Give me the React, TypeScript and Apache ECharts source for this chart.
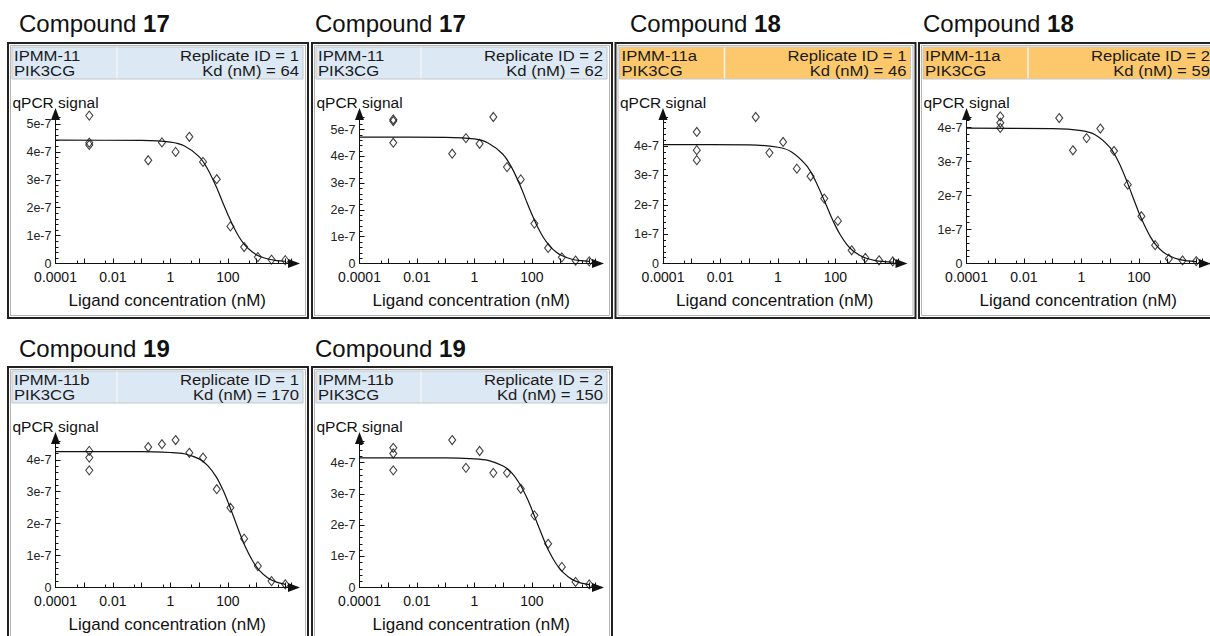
import React, { useEffect, useRef } from "react";
import * as echarts from "echarts";

// ---------- data (signal values in units of 1e-7) ----------
const COMPOUNDS = ["17", "17", "18", "18", "19", "19"];
const TARGETS = ["IPMM-11", "IPMM-11", "IPMM-11a", "IPMM-11a", "IPMM-11b", "IPMM-11b"];
const GENE = "PIK3CG";
const REPLICATES = [1, 2, 1, 2, 1, 2];
const KD_NM = [64, 62, 46, 59, 170, 150];

const CONTROL_CONC = 0.0015;
const CONC = [0.169, 0.508, 1.52, 4.57, 13.7, 41.2, 123, 370, 1111, 3333, 10000];
const FIT_CONC = [0.0001, 0.1, 1, 3, 10, 20, 40, 70, 100, 150, 250, 400, 700, 1200, 2500, 5000, 10000];

const CTRL_17_1 = [5.3, 4.33, 4.25];
const SIG_17_1 = [3.7, 4.34, 4.0, 4.54, 3.64, 3.02, 1.33, 0.59, 0.23, 0.14, 0.12];
const FIT_17_1 = [4.42, 4.41, 4.35, 4.22, 3.83, 3.38, 2.74, 2.13, 1.76, 1.36, 0.94, 0.65, 0.42, 0.27, 0.16, 0.105, 0.08];

const CTRL_17_2 = [5.38, 5.32, 4.51];
const SIG_17_2 = [4.1, 4.68, 4.47, 5.47, 3.6, 3.14, 1.49, 0.58, 0.23, 0.11, 0.08];
const FIT_17_2 = [4.72, 4.71, 4.65, 4.5, 4.07, 3.58, 2.89, 2.24, 1.84, 1.42, 0.98, 0.68, 0.43, 0.28, 0.16, 0.107, 0.079];

const CTRL_18_1 = [4.48, 3.86, 3.52];
const SIG_18_1 = [4.99, 3.77, 4.14, 3.23, 2.97, 2.21, 1.45, 0.45, 0.19, 0.11, 0.07];
const FIT_18_1 = [4.05, 4.04, 3.96, 3.8, 3.33, 2.83, 2.18, 1.62, 1.29, 0.97, 0.65, 0.44, 0.28, 0.18, 0.1, 0.067, 0.048];

const CTRL_18_2 = [4.33, 4.14, 3.99];
const SIG_18_2 = [4.28, 3.33, 3.69, 3.97, 3.31, 2.32, 1.39, 0.54, 0.14, 0.09, 0.07];
const FIT_18_2 = [3.98, 3.97, 3.91, 3.79, 3.41, 2.98, 2.38, 1.84, 1.5, 1.16, 0.79, 0.54, 0.34, 0.22, 0.12, 0.076, 0.053];

const CTRL_19_1 = [4.28, 4.07, 3.67];
const SIG_19_1 = [4.4, 4.49, 4.62, 4.22, 4.07, 3.08, 2.5, 1.53, 0.67, 0.2, 0.1];
const FIT_19_1 = [4.26, 4.26, 4.23, 4.19, 4.03, 3.82, 3.46, 3.03, 2.69, 2.28, 1.74, 1.29, 0.86, 0.55, 0.3, 0.17, 0.1];

const CTRL_19_2 = [4.47, 4.29, 3.75];
const SIG_19_2 = [4.72, 3.83, 4.37, 3.67, 3.67, 3.16, 2.31, 1.4, 0.66, 0.18, 0.1];
const FIT_19_2 = [4.15, 4.15, 4.12, 4.07, 3.89, 3.67, 3.28, 2.84, 2.5, 2.09, 1.58, 1.15, 0.76, 0.49, 0.26, 0.15, 0.09];

const CONTROLS = [CTRL_17_1, CTRL_17_2, CTRL_18_1, CTRL_18_2, CTRL_19_1, CTRL_19_2];
const SIGNALS = [SIG_17_1, SIG_17_2, SIG_18_1, SIG_18_2, SIG_19_1, SIG_19_2];
const FITS = [FIT_17_1, FIT_17_2, FIT_18_1, FIT_18_2, FIT_19_1, FIT_19_2];
const Y_MAX = [5.25, 5.47, 4.99, 4.31, 4.59, 4.69];

const X_TICK_LABELS: Record<string, string> = { "-4": "0.0001", "-2": "0.01", "0": "1", "2": "100" };
const X_MIN = 0.0001;
const X_MAX = 15850;

// ---------- layout ----------
const FONT = '"Liberation Sans", Arial, Helvetica, sans-serif';
const BOX_LEFT = [8, 312, 615.5, 919, 8, 312];
const BOX_TOP = [43, 43, 43, 43, 367, 367];
const TITLE_X = [19, 315, 630, 923, 19, 315];
const TITLE_Y = [23, 23, 23, 23, 348, 348];
const BOX_W = 300;
const BOX_H = 275;

function headerColor(c: string) {
  return c === "18" ? "#fcc86b" : "#dce8f4";
}

export default function App() {
  const ref = useRef<HTMLDivElement>(null);

  useEffect(() => {
    if (!ref.current) return;
    const chart = echarts.init(ref.current, null, { renderer: "svg" });

    const grids: any[] = [];
    const xAxes: any[] = [];
    const yAxes: any[] = [];
    const series: any[] = [];
    const graphics: any[] = [];

    for (let i = 0; i < 6; i++) {
      const bx = BOX_LEFT[i];
      const by = BOX_TOP[i];

      grids.push({ left: bx + 47.5, top: by + 74, width: 235.5, height: 146.5 });

      xAxes.push({
        type: "log",
        logBase: 10,
        gridIndex: i,
        min: X_MIN,
        max: X_MAX,
        splitNumber: 8,
        axisLine: {
          show: true,
          onZero: false,
          symbol: ["none", "triangle"],
          symbolSize: [9, 12],
          symbolOffset: [0, 3],
          lineStyle: { color: "#111", width: 1 },
        },
        axisTick: { show: true, inside: true, length: 5, lineStyle: { color: "#111" } },
        minorTick: { show: true, splitNumber: 2, length: 3, lineStyle: { color: "#111" } },
        splitLine: { show: false },
        axisLabel: {
          fontFamily: FONT,
          fontSize: 14,
          color: "#111",
          margin: 6,
          showMaxLabel: false,
          formatter: (v: number) => {
            const l = Math.log10(v);
            const r = Math.round(l);
            if (Math.abs(l - r) > 1e-6) return "";
            return X_TICK_LABELS[String(r)] ?? "";
          },
        },
        name: "Ligand concentration (nM)",
        nameLocation: "middle",
        nameGap: 28,
        nameTextStyle: { fontFamily: FONT, fontSize: 17, color: "#111", padding: [0, 12, 0, 0] },
      });

      yAxes.push({
        type: "value",
        gridIndex: i,
        min: 0,
        max: Y_MAX[i],
        interval: 1,
        axisLine: {
          show: true,
          onZero: false,
          symbol: ["none", "triangle"],
          symbolSize: [9, 12],
          symbolOffset: [0, 3],
          lineStyle: { color: "#111", width: 1 },
        },
        axisTick: { show: true, inside: true, length: 5, lineStyle: { color: "#111" } },
        minorTick: { show: true, splitNumber: 5, length: 3, lineStyle: { color: "#111" } },
        splitLine: { show: false },
        axisLabel: {
          fontFamily: FONT,
          fontSize: 12.5,
          color: "#222",
          margin: 4,
          formatter: (v: number) => {
            const r = Math.round(v);
            if (Math.abs(v - r) > 1e-6) return "";
            return r === 0 ? "0" : `${r}e-7`;
          },
        },
        name: "qPCR signal",
        nameLocation: "end",
        nameGap: 7,
        nameTextStyle: { fontFamily: FONT, fontSize: 15.5, color: "#111" },
      });

      series.push({
        type: "line",
        xAxisIndex: i,
        yAxisIndex: i,
        data: FIT_CONC.map((x, j) => [x, FITS[i][j]]),
        smooth: 0.3,
        showSymbol: false,
        symbol: "none",
        lineStyle: { color: "#111", width: 1.2 },
        z: 2,
        silent: true,
      });

      series.push({
        type: "scatter",
        xAxisIndex: i,
        yAxisIndex: i,
        data: [
          ...CONTROLS[i].map((v) => [CONTROL_CONC, v]),
          ...CONC.map((x, j) => [x, SIGNALS[i][j]]),
        ],
        symbol: "diamond",
        symbolSize: [7, 9],
        clip: false,
        itemStyle: { color: "rgba(255,255,255,0)", borderColor: "#111", borderWidth: 1.1 },
        z: 3,
      });

      // title
      graphics.push({
        type: "text",
        x: TITLE_X[i],
        y: TITLE_Y[i],
        style: {
          text: `{n|Compound }{b|${COMPOUNDS[i]}}`,
          verticalAlign: "middle",
          rich: {
            n: { fontFamily: FONT, fontSize: 24, fill: "#111", fontWeight: "normal" },
            b: { fontFamily: FONT, fontSize: 24, fill: "#111", fontWeight: "bold" },
          },
        },
      });
      // box
      graphics.push({
        type: "rect",
        shape: { x: bx, y: by, width: BOX_W, height: BOX_H },
        style: { fill: "none", stroke: "#222", lineWidth: 2 },
      });
      graphics.push({
        type: "rect",
        shape: { x: bx + 2.5, y: by + 2.5, width: BOX_W - 5, height: BOX_H - 5 },
        style: { fill: "none", stroke: "#b5b5b5", lineWidth: 1 },
      });
      // header
      graphics.push({
        type: "rect",
        shape: { x: bx + 4, y: by + 4, width: 291, height: 32 },
        style: { fill: headerColor(COMPOUNDS[i]), stroke: "#c2c6ca", lineWidth: 1 },
      });
      graphics.push({
        type: "line",
        shape: { x1: bx + 109, y1: by + 4.5, x2: bx + 109, y2: by + 35.5 },
        style: { stroke: "#f2f4f6", lineWidth: 1.5 },
      });
      const hText = (text: string, x: number, y: number, align: string) => ({
        type: "text",
        x,
        y,
        scaleX: 1.15,
        originX: 0,
        originY: 0,
        style: {
          text,
          fontFamily: FONT,
          fontSize: 14.5,
          fill: "#1a1a1a",
          align,
          verticalAlign: "middle",
        },
      });
      graphics.push(hText(TARGETS[i], bx + 6, by + 13, "left"));
      graphics.push(hText(GENE, bx + 6, by + 27.5, "left"));
      graphics.push(hText(`Replicate ID = ${REPLICATES[i]}`, bx + 291, by + 13, "right"));
      graphics.push(hText(`Kd (nM) = ${KD_NM[i]}`, bx + 291, by + 27.5, "right"));
    }

    chart.setOption({
      animation: false,
      backgroundColor: "#ffffff",
      textStyle: { fontFamily: FONT },
      grid: grids,
      xAxis: xAxes,
      yAxis: yAxes,
      series,
      graphic: { elements: graphics },
    });

    return () => chart.dispose();
  }, []);

  return (
    <div
      ref={ref}
      style={{ position: "fixed", left: 0, top: 0, width: 1210, height: 636, background: "#fff" }}
    />
  );
}
